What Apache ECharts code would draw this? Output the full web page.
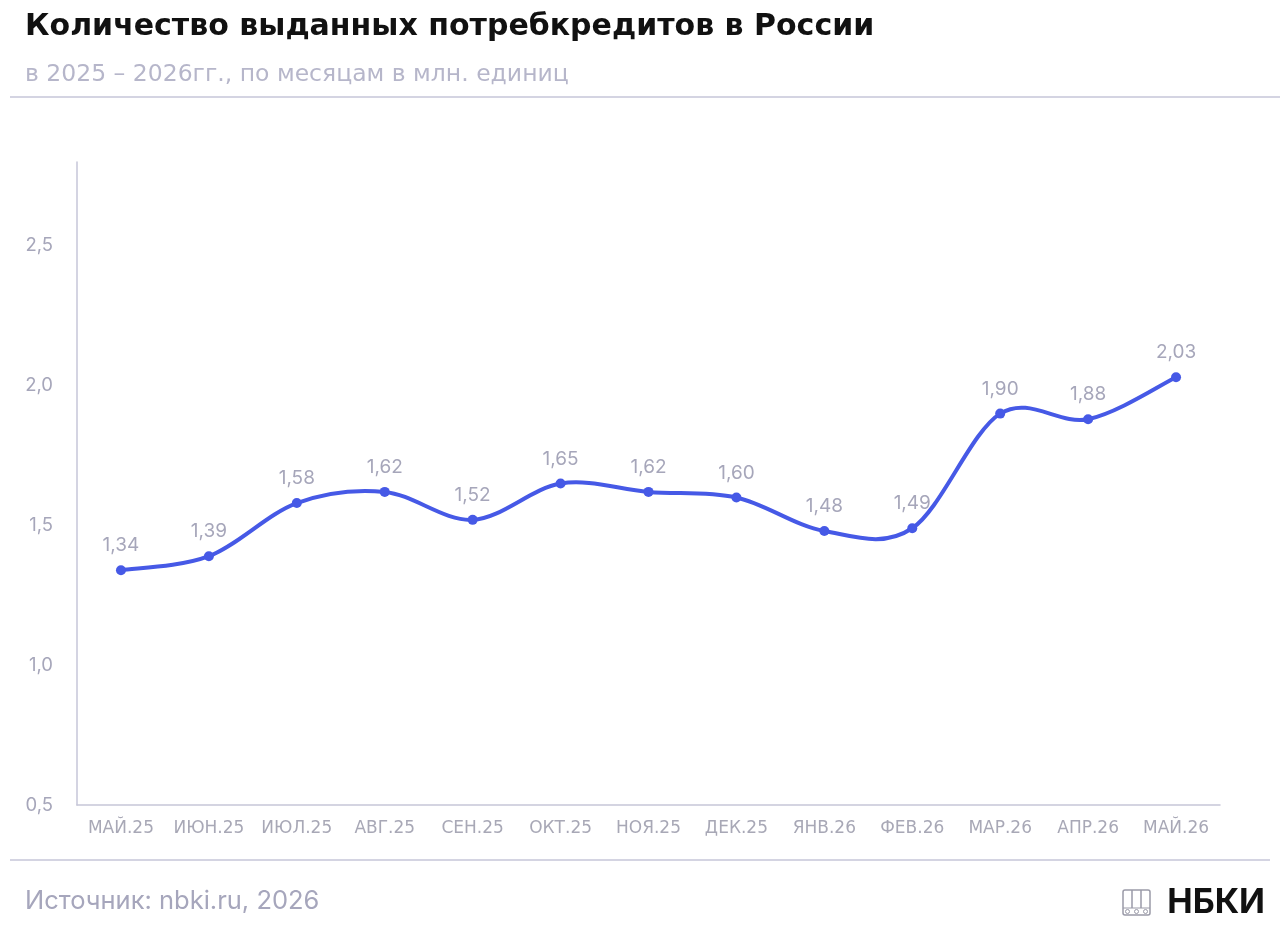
<!DOCTYPE html>
<html>
<head>
<meta charset="utf-8">
<script src="https://cdn.jsdelivr.net/npm/echarts@6/dist/echarts.min.js"></script>
<style>html,body{margin:0;padding:0;background:#fff}#c{width:1280px;height:927px}</style>
</head>
<body>
<div id="c"></div>
<script>
const categories = ['МАЙ.25','ИЮН.25','ИЮЛ.25','АВГ.25','СЕН.25','ОКТ.25','НОЯ.25','ДЕК.25','ЯНВ.26','ФЕВ.26','МАР.26','АПР.26','МАЙ.26'];
const values = [1.34,1.39,1.58,1.62,1.52,1.65,1.62,1.60,1.48,1.49,1.90,1.88,2.03];
const yTicks = [0.5,1.0,1.5,2.0,2.5];
const titleText = 'Количество выданных потребкредитов в России';
const subtitleText = 'в 2025 – 2026гг., по месяцам в млн. единиц';
const sourceText = 'Источник: nbki.ru, 2026';
const logoText = 'НБКИ';

const chart = echarts.init(document.getElementById('c'), null, {renderer:'canvas'});
const lineCol = '#c6c6d8';
const iconCol = '#9a9aa8';
const blue = '#4659e6';
const labelCol = '#a6a6ba';

// Catmull-Rom curve drawn through the axis scales (api.coord)
function renderCurve(params, api) {
  if (params.dataIndex !== 0) return null;
  const pts = values.map((v, i) => api.coord([i, v]));
  const n = pts.length;
  const children = [];
  for (let i = 0; i < n - 1; i++) {
    const p0 = pts[Math.max(i - 1, 0)], p1 = pts[i], p2 = pts[i + 1], p3 = pts[Math.min(i + 2, n - 1)];
    children.push({
      type:'bezierCurve',
      shape:{
        x1:p1[0], y1:p1[1], x2:p2[0], y2:p2[1],
        cpx1:p1[0] + (p2[0] - p0[0]) / 6, cpy1:p1[1] + (p2[1] - p0[1]) / 6,
        cpx2:p2[0] - (p3[0] - p1[0]) / 6, cpy2:p2[1] - (p3[1] - p1[1]) / 6
      },
      style:{stroke:blue, lineWidth:4, fill:null, lineCap:'round'}
    });
  }
  return {type:'group', children};
}

chart.setOption({
  animation:false,
  backgroundColor:'#fff',
  grid:{left:77,right:60,top:162,bottom:122,containLabel:false},
  xAxis:{
    type:'category', data:categories, boundaryGap:true,
    axisLine:{lineStyle:{color:lineCol,width:1.5}},
    axisTick:{show:false},
    axisLabel:{color:'#a8a8b6',fontFamily:'DejaVu Sans',fontSize:17,margin:15,interval:0}
  },
  yAxis:{
    type:'value', min:0.5, max:2.8, interval:0.5,
    axisLine:{show:true,lineStyle:{color:lineCol,width:1.5}},
    axisTick:{show:false},
    splitLine:{show:false},
    axisLabel:{color:labelCol,fontFamily:'Inter',fontSize:18.5,margin:24,showMaxLabel:false,
      formatter:v=> yTicks.some(t=>Math.abs(t-v)<1e-9) ? v.toFixed(1).replace('.',',') : ''}
  },
  series:[
    {
      type:'custom', data:values, renderItem:renderCurve, z:2, silent:true
    },
    {
      type:'line', data:values, z:3,
      symbol:'circle', symbolSize:10,
      lineStyle:{width:0,opacity:0},
      itemStyle:{color:blue},
      label:{show:true,position:'top',distance:10,color:labelCol,fontFamily:'Inter',fontSize:19,
        formatter:p=>p.value.toFixed(2).replace('.',',')}
    }
  ],
  graphic:[
    {type:'text',x:25,y:27,style:{text:titleText,fontFamily:'DejaVu Sans',fontWeight:'bold',fontSize:30,fill:'#111',verticalAlign:'middle'}},
    {type:'text',x:25,y:75,style:{text:subtitleText,fontFamily:'DejaVu Sans',fontSize:23.5,fill:'#b6b6ca',verticalAlign:'middle'}},
    {type:'line',shape:{x1:10,y1:97,x2:1280,y2:97},style:{stroke:lineCol,lineWidth:1.5}},
    {type:'line',shape:{x1:10,y1:860,x2:1270,y2:860},style:{stroke:lineCol,lineWidth:1.5}},
    {type:'text',x:25,y:901,style:{text:sourceText,fontFamily:'Inter',fontSize:25.5,fill:'#a6a6bc',verticalAlign:'middle'}},
    {type:'text',x:1265,y:903,style:{text:logoText,fontFamily:'Inter',fontWeight:'bold',fontSize:34,fill:'#111',align:'right',verticalAlign:'middle'}},
    {type:'group',x:1123,y:890,children:[
      {type:'rect',shape:{x:0,y:0,width:27,height:25,r:2},style:{fill:'none',stroke:iconCol,lineWidth:1.5}},
      {type:'line',shape:{x1:9,y1:0,x2:9,y2:18},style:{stroke:iconCol,lineWidth:1.5}},
      {type:'line',shape:{x1:18,y1:0,x2:18,y2:18},style:{stroke:iconCol,lineWidth:1.5}},
      {type:'line',shape:{x1:0,y1:18,x2:27,y2:18},style:{stroke:iconCol,lineWidth:1}},
      {type:'circle',shape:{cx:4.5,cy:21.5,r:2},style:{fill:'none',stroke:iconCol,lineWidth:1}},
      {type:'circle',shape:{cx:13.5,cy:21.5,r:2},style:{fill:'none',stroke:iconCol,lineWidth:1}},
      {type:'circle',shape:{cx:22.5,cy:21.5,r:2},style:{fill:'none',stroke:iconCol,lineWidth:1}}
    ]}
  ]
});
</script>
</body>
</html>
